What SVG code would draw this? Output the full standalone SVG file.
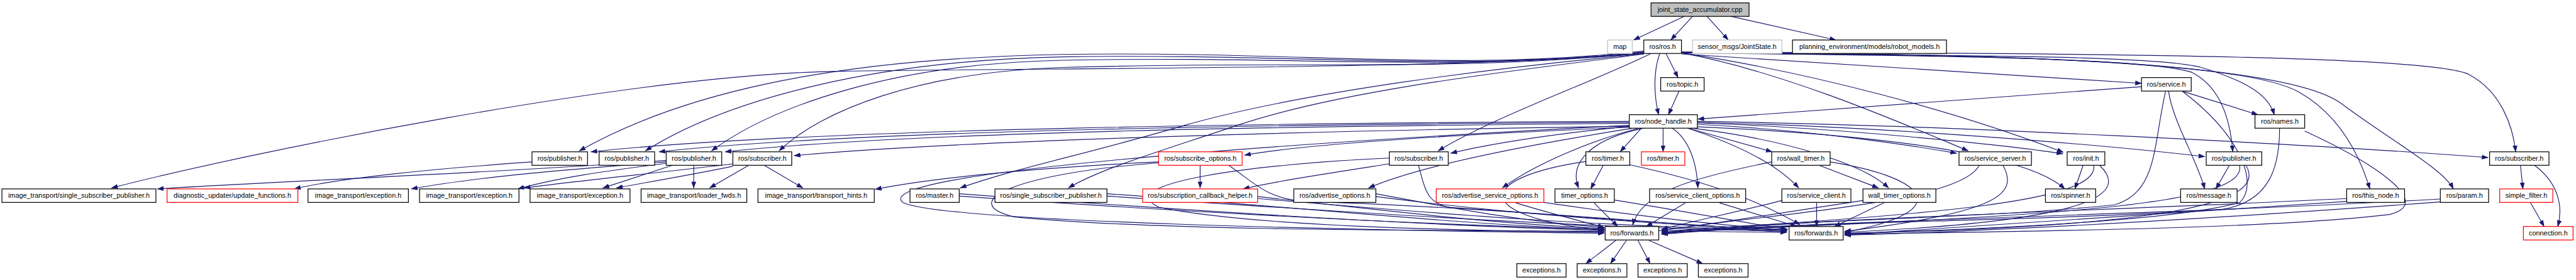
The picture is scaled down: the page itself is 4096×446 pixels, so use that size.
<svg xmlns="http://www.w3.org/2000/svg" width="4096" height="446" viewBox="0 0 4096 446">
<defs>
<marker id="a" markerUnits="userSpaceOnUse" markerWidth="14" markerHeight="10" refX="13" refY="5" orient="auto" viewBox="0 0 14 10"><path d="M0,0 L14,5 L0,10 z" fill="#191970"/></marker>
<style>
.e path{fill:none;stroke:#191970;stroke-width:1.5;marker-end:url(#a)}
.n rect{fill:#fff;stroke:#000;stroke-width:1.6}
.n.r rect{stroke:#ff0000}
.n.g rect{stroke:#bfbfbf}
.n.root rect{fill:#bfbfbf}
.n text{font-family:"Liberation Sans",Arial,sans-serif;font-size:14.2px;text-anchor:middle;fill:#000}
</style>
</defs>
<rect width="4096" height="446" fill="#fff"/>
<g transform="scale(0.767616)">
<g class="e" id="edges">
<path d="M3489,34 L3384,83"/>
<path d="M3506,34 L3461,83"/>
<path d="M3536,34 L3580,83"/>
<path d="M3586,34 L3803,83"/>
<path d="M3451,111 L3476,161"/>
<path d="M3438,111 C3424,150 3426,200 3436,238"/>
<path d="M3478,189 L3456,238"/>
<path d="M3484,112 L4436,173"/>
<path d="M4436,180 L3517,247"/>
<path d="M4520,189 L4677,238"/>
<path d="M3484,108 C3900,118 4450,110 4560,140 C4660,170 4700,200 4711,238"/>
<path d="M3484,110 C4000,115 4450,120 4540,150 C4600,180 4620,250 4625,315"/>
<path d="M3484,109 C4200,112 4650,130 4760,190 C4850,240 4890,330 4909,392"/>
<path d="M3484,109 C4300,110 4750,140 4850,215 C4950,290 5060,350 5082,392"/>
<path d="M3484,108 C4500,110 5050,120 5115,155 C5180,190 5205,260 5211,315"/>
<path d="M3484,110 C3700,150 3950,260 4077,313"/>
<path d="M3484,110 C3750,150 4050,230 4274,316"/>
<path d="M3405,106 C3000,150 2700,105 2200,113 C1700,122 1400,200 1200,313"/>
<path d="M3405,108 C3000,150 2700,110 2200,118 C1800,126 1500,210 1337,313"/>
<path d="M3405,109 C3000,150 2700,115 2200,125 C1850,132 1600,220 1474,313"/>
<path d="M3405,110 C3000,150 2700,125 2200,140 C1900,150 1700,230 1614,313"/>
<path d="M3405,111 C3000,145 2200,140 1737,148 C1300,155 500,320 231,390"/>
<path d="M3420,111 C3300,170 3100,240 2979,313"/>
<path d="M3405,112 C3100,140 2700,190 2454,260 C2250,320 2100,350 1989,390"/>
<path d="M3405,112 C3200,140 2800,180 2563,260 C2400,315 2280,350 2213,390"/>
<path d="M3375,252 C2700,255 1700,265 1224,315"/>
<path d="M3375,254 C2700,258 1800,268 1365,315"/>
<path d="M3375,256 C2700,262 1900,272 1502,315"/>
<path d="M3375,262 C2800,270 2000,290 1645,323"/>
<path d="M3375,264 C3000,280 2700,300 2578,322"/>
<path d="M3375,262 C3200,280 3080,300 3005,318"/>
<path d="M3400,266 L3356,315"/>
<path d="M3445,266 L3445,315"/>
<path d="M3497,266 L3671,315"/>
<path d="M3516,258 C3750,270 3950,300 4053,318"/>
<path d="M3516,255 C3800,265 4150,300 4273,319"/>
<path d="M3516,254 C3900,262 4350,300 4567,325"/>
<path d="M3516,252 C4000,258 4800,300 5154,327"/>
<path d="M3395,266 C3300,290 3180,340 3112,390"/>
<path d="M3383,266 C3200,295 2950,340 2835,390"/>
<path d="M3405,266 C3290,290 3250,340 3270,390"/>
<path d="M3464,266 C3500,290 3515,340 3517,390"/>
<path d="M3496,266 C3600,300 3680,340 3726,390"/>
<path d="M3505,266 C3700,290 3860,340 3912,390"/>
<path d="M3516,263 C3900,280 4200,320 4277,392"/>
<path d="M3321,343 L3295,392"/>
<path d="M3285,335 C3050,370 3050,450 3323,478"/>
<path d="M3376,342 C3550,380 3650,420 3728,466"/>
<path d="M3768,343 L3891,390"/>
<path d="M3670,336 C3500,370 3400,400 3382,467"/>
<path d="M3791,336 C4000,370 4050,440 3821,482"/>
<path d="M2400,338 C2100,360 1980,420 2100,450 C2400,480 3000,478 3323,480"/>
<path d="M2545,343 C2600,380 2620,410 2700,418 C3100,430 3500,470 3702,478"/>
<path d="M2878,328 C2600,340 2300,380 2400,430 C2600,470 3000,478 3323,482"/>
<path d="M2938,343 C2950,380 2950,420 3000,430 C3300,450 3500,470 3701,482"/>
<path d="M3375,260 C2600,300 1800,360 1870,420 C1950,460 2800,478 3323,484"/>
<path d="M4100,343 C4060,420 3700,440 3442,478"/>
<path d="M4149,343 C4180,400 4150,440 3821,480"/>
<path d="M4337,343 C4350,420 4000,445 3442,480"/>
<path d="M4349,343 C4420,410 4300,460 3821,482"/>
<path d="M4639,343 C4660,430 4200,450 3442,482"/>
<path d="M4652,343 C4700,420 4500,470 3821,484"/>
<path d="M4486,189 C4460,300 4470,400 4380,425 C4100,455 3700,455 3442,483"/>
<path d="M4520,189 C4640,280 4680,380 4640,420 C4500,460 4100,475 3821,485"/>
<path d="M4722,266 C4722,350 4700,420 4600,435 C4200,460 3700,460 3442,484"/>
<path d="M4774,272 C4900,330 5050,420 4950,445 C4700,475 4200,480 3821,486"/>
<path d="M4861,412 C4300,440 3800,450 3442,485"/>
<path d="M4861,418 C4400,450 4000,475 3821,487"/>
<path d="M5055,413 C4400,450 3800,455 3442,486"/>
<path d="M5055,419 C4500,460 4100,480 3821,488"/>
<path d="M1987,402 C2500,440 3000,470 3323,478"/>
<path d="M1987,407 C2600,450 3200,480 3701,482"/>
<path d="M2293,402 C2700,430 3000,465 3323,476"/>
<path d="M2293,407 C2800,440 3200,470 3701,480"/>
<path d="M2605,408 C2900,440 3100,465 3323,474"/>
<path d="M2605,412 C3000,445 3300,470 3701,478"/>
<path d="M2850,402 C3000,430 3150,460 3323,472"/>
<path d="M2850,408 C3100,440 3400,465 3701,476"/>
<path d="M3140,421 C3200,440 3280,460 3323,472"/>
<path d="M3198,420 C3400,450 3550,465 3701,478"/>
<path d="M3302,421 L3351,470"/>
<path d="M3344,415 C3500,440 3600,460 3703,476"/>
<path d="M3491,421 L3410,470"/>
<path d="M3562,421 L3722,470"/>
<path d="M3691,416 C3600,440 3500,460 3442,476"/>
<path d="M3763,421 L3763,470"/>
<path d="M3859,416 C3700,440 3550,465 3442,478"/>
<path d="M3902,421 L3800,470"/>
<path d="M1102,336 C900,350 700,370 610,392"/>
<path d="M1380,333 C1000,360 600,375 326,392"/>
<path d="M1380,336 C1200,350 1000,365 852,392"/>
<path d="M1380,339 C1250,355 1150,370 1073,392"/>
<path d="M1518,340 C1350,360 1200,375 1086,390"/>
<path d="M1393,343 L1249,390"/>
<path d="M1518,345 C1420,365 1330,380 1277,390"/>
<path d="M1437,343 L1437,390"/>
<path d="M1551,343 L1470,390"/>
<path d="M1583,343 L1663,390"/>
<path d="M2400,336 C2100,350 1900,375 1813,393"/>
<path d="M2486,343 L2486,390"/>
<path d="M2878,340 C2750,360 2650,375 2575,392"/>
<path d="M5221,343 L5226,392"/>
<path d="M5250,343 C5300,380 5310,430 5298,470"/>
<path d="M5242,421 L5270,470"/>
<path d="M4315,343 L4298,392"/>
<path d="M4618,343 L4590,392"/>
<path d="M4492,189 C4500,250 4550,330 4567,392"/>
<path d="M3347,499 L3285,547"/>
<path d="M3369,499 L3336,547"/>
<path d="M3393,499 L3418,547"/>
<path d="M3416,499 L3527,547"/>
</g>
<g id="root" class="n root"><rect x="3420" y="6" width="203" height="28"/><text x="3521.5" y="25">joint_state_accumulator.cpp</text></g>
<g id="map" class="n g"><rect x="3330" y="83" width="51" height="28"/><text x="3355.5" y="102">map</text></g>
<g id="ros_h" class="n"><rect x="3405" y="83" width="78" height="28"/><text x="3444" y="102">ros/ros.h</text></g>
<g id="jointstate" class="n g"><rect x="3506" y="83" width="185" height="28"/><text x="3598.5" y="102">sensor_msgs/JointState.h</text></g>
<g id="robot_models" class="n"><rect x="3713" y="83" width="319" height="28"/><text x="3872.5" y="102">planning_environment/models/robot_models.h</text></g>
<g id="topic" class="n"><rect x="3440" y="161" width="90" height="28"/><text x="3485" y="180">ros/topic.h</text></g>
<g id="service" class="n"><rect x="4436" y="161" width="103" height="28"/><text x="4487.5" y="180">ros/service.h</text></g>
<g id="node_handle" class="n"><rect x="3375" y="238" width="141" height="28"/><text x="3445.5" y="257">ros/node_handle.h</text></g>
<g id="names" class="n"><rect x="4671" y="238" width="103" height="28"/><text x="4722.5" y="257">ros/names.h</text></g>
<g id="pub1" class="n"><rect x="1102" y="315" width="115" height="28"/><text x="1159.5" y="334">ros/publisher.h</text></g>
<g id="pub2" class="n"><rect x="1241" y="315" width="115" height="28"/><text x="1298.5" y="334">ros/publisher.h</text></g>
<g id="pub3" class="n"><rect x="1380" y="315" width="115" height="28"/><text x="1437.5" y="334">ros/publisher.h</text></g>
<g id="sub1" class="n"><rect x="1518" y="315" width="122" height="28"/><text x="1579" y="334">ros/subscriber.h</text></g>
<g id="subscribe_options" class="n r"><rect x="2400" y="315" width="173" height="28"/><text x="2486.5" y="334">ros/subscribe_options.h</text></g>
<g id="sub2" class="n"><rect x="2878" y="315" width="122" height="28"/><text x="2939" y="334">ros/subscriber.h</text></g>
<g id="timer1" class="n"><rect x="3285" y="315" width="91" height="28"/><text x="3330.5" y="334">ros/timer.h</text></g>
<g id="timer2" class="n r"><rect x="3400" y="315" width="90" height="28"/><text x="3445" y="334">ros/timer.h</text></g>
<g id="wall_timer" class="n"><rect x="3670" y="315" width="121" height="28"/><text x="3730.5" y="334">ros/wall_timer.h</text></g>
<g id="service_server" class="n"><rect x="4058" y="315" width="150" height="28"/><text x="4133" y="334">ros/service_server.h</text></g>
<g id="init" class="n"><rect x="4282" y="315" width="78" height="28"/><text x="4321" y="334">ros/init.h</text></g>
<g id="pub4" class="n"><rect x="4570" y="315" width="115" height="28"/><text x="4627.5" y="334">ros/publisher.h</text></g>
<g id="sub3" class="n"><rect x="5157" y="315" width="123" height="28"/><text x="5218.5" y="334">ros/subscriber.h</text></g>
<g id="it_ssp" class="n"><rect x="4" y="392" width="319" height="28"/><text x="163.5" y="411">image_transport/single_subscriber_publisher.h</text></g>
<g id="update_functions" class="n r"><rect x="346" y="392" width="271" height="28"/><text x="481.5" y="411">diagnostic_updater/update_functions.h</text></g>
<g id="exc1" class="n"><rect x="638" y="392" width="208" height="28"/><text x="742" y="411">image_transport/exception.h</text></g>
<g id="exc2" class="n"><rect x="869" y="392" width="206" height="28"/><text x="972" y="411">image_transport/exception.h</text></g>
<g id="exc3" class="n"><rect x="1098" y="392" width="207" height="28"/><text x="1201.5" y="411">image_transport/exception.h</text></g>
<g id="loader_fwds" class="n"><rect x="1328" y="392" width="219" height="28"/><text x="1437.5" y="411">image_transport/loader_fwds.h</text></g>
<g id="transport_hints" class="n"><rect x="1570" y="392" width="241" height="28"/><text x="1690.5" y="411">image_transport/transport_hints.h</text></g>
<g id="master" class="n"><rect x="1885" y="392" width="102" height="28"/><text x="1936" y="411">ros/master.h</text></g>
<g id="ros_ssp" class="n"><rect x="2061" y="392" width="232" height="28"/><text x="2177" y="411">ros/single_subscriber_publisher.h</text></g>
<g id="sch" class="n r"><rect x="2367" y="392" width="238" height="28"/><text x="2486" y="411">ros/subscription_callback_helper.h</text></g>
<g id="advertise_options" class="n"><rect x="2680" y="392" width="170" height="28"/><text x="2765" y="411">ros/advertise_options.h</text></g>
<g id="aso" class="n r"><rect x="2975" y="392" width="223" height="28"/><text x="3086.5" y="411">ros/advertise_service_options.h</text></g>
<g id="timer_options" class="n"><rect x="3221" y="392" width="123" height="28"/><text x="3282.5" y="411">timer_options.h</text></g>
<g id="sco" class="n"><rect x="3417" y="392" width="199" height="28"/><text x="3516.5" y="411">ros/service_client_options.h</text></g>
<g id="service_client" class="n"><rect x="3691" y="392" width="143" height="28"/><text x="3762.5" y="411">ros/service_client.h</text></g>
<g id="wto" class="n"><rect x="3859" y="392" width="151" height="28"/><text x="3934.5" y="411">wall_timer_options.h</text></g>
<g id="spinner" class="n"><rect x="4237" y="392" width="104" height="28"/><text x="4289" y="411">ros/spinner.h</text></g>
<g id="message" class="n"><rect x="4517" y="392" width="117" height="28"/><text x="4575.5" y="411">ros/message.h</text></g>
<g id="this_node" class="n"><rect x="4861" y="392" width="120" height="28"/><text x="4921" y="411">ros/this_node.h</text></g>
<g id="param" class="n"><rect x="5055" y="392" width="100" height="28"/><text x="5105" y="411">ros/param.h</text></g>
<g id="simple_filter" class="n r"><rect x="5178" y="392" width="110" height="28"/><text x="5233" y="411">simple_filter.h</text></g>
<g id="fwd1" class="n"><rect x="3325" y="470" width="111" height="28"/><text x="3380.5" y="489">ros/forwards.h</text></g>
<g id="fwd2" class="n"><rect x="3706" y="470" width="112" height="28"/><text x="3762" y="489">ros/forwards.h</text></g>
<g id="connection" class="n r"><rect x="5227" y="470" width="103" height="28"/><text x="5278.5" y="489">connection.h</text></g>
<g id="ex1" class="n"><rect x="3142" y="547" width="102" height="28"/><text x="3193" y="566">exceptions.h</text></g>
<g id="ex2" class="n"><rect x="3267" y="547" width="103" height="28"/><text x="3318.5" y="566">exceptions.h</text></g>
<g id="ex3" class="n"><rect x="3393" y="547" width="102" height="28"/><text x="3444" y="566">exceptions.h</text></g>
<g id="ex4" class="n"><rect x="3518" y="547" width="103" height="28"/><text x="3569.5" y="566">exceptions.h</text></g>
</g>
</svg>
